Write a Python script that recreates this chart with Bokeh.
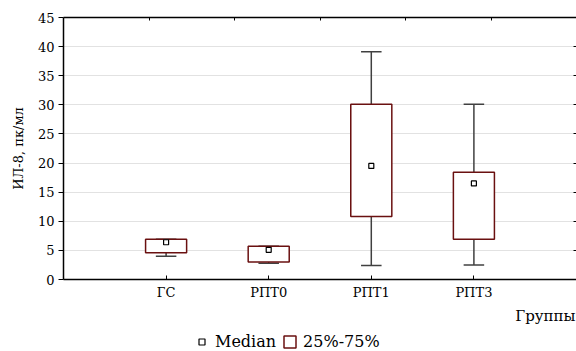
from bokeh.plotting import figure
from bokeh.models import (Range1d, LinearAxis, FixedTicker, Legend, LegendItem, Title,
                          ColumnDataSource)
from bokeh.layouts import column
from bokeh.embed import file_html
from bokeh.resources import INLINE

cats = ["ГС", "РПТ0", "РПТ1", "РПТ3"]
mins = [4.0, 2.8, 2.4, 2.5]
q1 = [4.6, 3.0, 10.8, 6.9]
med = [6.4, 5.1, 19.5, 16.5]
q3 = [6.9, 5.7, 30.1, 18.4]
maxs = [6.9, 5.7, 39.1, 30.1]
yticks = [0, 5, 10, 15, 20, 25, 30, 35, 40, 45]

xs = [i + 1 for i in range(len(cats))]
src = ColumnDataSource(dict(
    x=xs, left=[x - 0.2 for x in xs], right=[x + 0.2 for x in xs],
    cl=[x - 0.1 for x in xs], cr=[x + 0.1 for x in xs],
    mins=mins, q1=q1, med=med, q3=q3, maxs=maxs))

FONT = "DejaVu Serif"
BOX_COLOR = "#6a1010"

p = figure(width=576, height=333, output_backend="svg", toolbar_location=None,
           x_range=Range1d(0, 5), y_range=Range1d(0, 45),
           min_border_left=63, min_border_right=0, min_border_top=17, min_border_bottom=54)
p.outline_line_color = None
p.background_fill_color = "white"
p.border_fill_color = "white"

# axes
p.xaxis.ticker = FixedTicker(ticks=xs)
p.xaxis.major_label_overrides = {x: c for x, c in zip(xs, cats)}
p.xaxis.major_tick_in = 4
p.xaxis.major_tick_out = 0
p.xaxis.minor_tick_line_color = None
p.xaxis.major_label_text_font = FONT
p.xaxis.major_label_text_font_size = "13px"
p.xaxis.major_label_text_color = "black"
p.xaxis.axis_line_width = 1.5
p.xaxis.major_label_standoff = 5

p.yaxis.ticker = FixedTicker(ticks=yticks)
p.yaxis.major_tick_in = 0
p.yaxis.major_tick_out = 5
p.yaxis.minor_tick_line_color = None
p.yaxis.major_label_text_font = FONT
p.yaxis.major_label_text_font_size = "13px"
p.yaxis.major_label_text_color = "black"
p.yaxis.axis_line_width = 1.5
p.yaxis.major_label_standoff = 4
p.yaxis.axis_label = "ИЛ-8, пк/мл"
p.yaxis.axis_label_text_font = FONT
p.yaxis.axis_label_text_font_style = "normal"
p.yaxis.axis_label_text_font_size = "13px"
p.yaxis.axis_label_text_color = "black"
p.yaxis.axis_label_standoff = 9

p.xgrid.grid_line_color = None
p.ygrid.ticker = FixedTicker(ticks=yticks)
p.ygrid.grid_line_color = "#e2e2e2"
p.ygrid.grid_line_width = 1.2

p.extra_x_ranges = {"top": Range1d(0, 6)}
top_ticks = [1, 2, 3, 4, 5]
top = LinearAxis(x_range_name="top", ticker=FixedTicker(ticks=top_ticks),
                 major_label_overrides={t: "" for t in top_ticks},
                 major_tick_in=3, major_tick_out=0, minor_tick_line_color=None,
                 major_label_standoff=0, axis_line_width=1.5)
p.add_layout(top, "above")
right = LinearAxis(ticker=FixedTicker(ticks=yticks), major_tick_in=3, major_tick_out=0,
                   major_label_overrides={t: "" for t in yticks},
                   minor_tick_line_color=None, major_label_standoff=0, axis_line_width=1.0)
p.add_layout(right, "right")

# whiskers
p.segment(x0="x", y0="q3", x1="x", y1="maxs", source=src, line_color="#404040", line_width=1.5)
p.segment(x0="x", y0="mins", x1="x", y1="q1", source=src, line_color="#404040", line_width=1.5)
p.segment(x0="cl", y0="maxs", x1="cr", y1="maxs", source=src, line_color="#404040", line_width=1.5)
p.segment(x0="cl", y0="mins", x1="cr", y1="mins", source=src, line_color="#404040", line_width=1.5)

p.quad(left="left", right="right", bottom="q1", top="q3", source=src,
       fill_color="white", line_color=BOX_COLOR, line_width=1.5)
p.scatter(x="x", y="med", source=src, marker="square", size=5,
          fill_color="white", line_color="black", line_width=1.2)

p.add_layout(Title(text="Группы", align="right", text_font=FONT, text_font_size="15px",
                   text_font_style="normal", text_color="black", standoff=5, offset=1),
             "below")

# legend strip
lf = figure(width=576, height=18, output_backend="svg", toolbar_location=None,
            x_range=Range1d(0, 5), y_range=Range1d(0, 45),
            x_axis_type=None, y_axis_type=None,
            min_border_left=0, min_border_right=0, min_border_top=0, min_border_bottom=0)
lf.outline_line_color = None
lf.grid.visible = False
lbox = lf.quad(left="left", right="right", bottom="q1", top="q3", source=src,
               fill_color="white", line_color=BOX_COLOR, line_width=1.5, visible=False)
lmed = lf.scatter(x="x", y="med", source=src, marker="square", size=5,
                  fill_color="white", line_color="black", line_width=1.2, visible=False)
legend = Legend(items=[LegendItem(label="Median", renderers=[lmed]),
                       LegendItem(label="25%-75%", renderers=[lbox])],
                orientation="horizontal", location=(131, 0),
                label_text_font=FONT, label_text_font_size="16px",
                label_text_font_style="normal", label_text_color="black", label_height=16,
                glyph_width=15, glyph_height=15, spacing=6, padding=0, margin=0,
                label_standoff=6, border_line_color=None, background_fill_alpha=0,
                inactive_fill_alpha=0)
lf.add_layout(legend, "center")

open("out.html", "w").write(file_html(column(p, lf, spacing=0), INLINE))
